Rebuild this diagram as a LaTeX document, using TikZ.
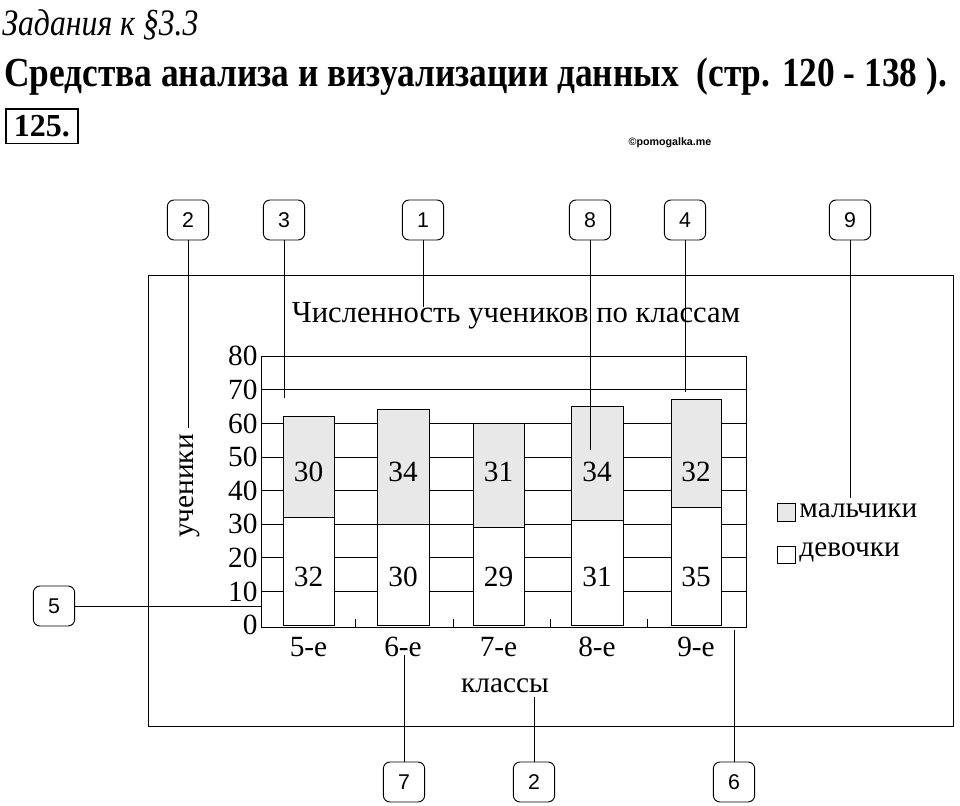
\documentclass[tikz,border=0pt]{standalone}
\usepackage{fontspec}
\setmainfont{Liberation Serif}
\setsansfont{Liberation Sans}
\usetikzlibrary{positioning}
\tikzset{
  callout/.style={draw, rounded corners=5pt, minimum width=31pt, minimum height=30pt, inner sep=0pt},
  lbl/.style={font=\fontsize{22}{22}\selectfont, inner sep=0pt},
  boys/.style={draw, fill=gray!18},
  girls/.style={draw, fill=white}
}
\begin{document}
\begin{tikzpicture}[x=0.75pt, y=-0.75pt, line width=0.7pt]
  \useasboundingbox (0,0) rectangle (960,806);
  % header
  \node[anchor=base west, inner sep=0pt, xscale=0.85, font=\itshape\fontsize{28}{28}\selectfont] (hdr) at (2,36) {Задания к §3.3};
  \node[anchor=base west, inner sep=0pt, xscale=0.855, font=\bfseries\fontsize{31}{31}\selectfont] (sub) at (4,87) {Средства анализа и визуализации данных\ \ (стр. 120 - 138 ).};
  \node[draw, line width=1.2pt, anchor=north west, minimum width=54pt, minimum height=26pt, inner sep=0pt, font=\bfseries\fontsize{24}{24}\selectfont] (num) at (5,108) {125.};
  \node[font=\sffamily\bfseries\fontsize{8}{8}\selectfont] (site) at (670,143) {©pomogalka.me};
  % frame
  \draw (148,275) rectangle (953,726);
  % grid
  \foreach \v [evaluate=\v as \yy using 625-3.36*\v] in {10,20,...,80}{
    \draw (261,\yy) -- (746,\yy);
  }
  \draw (261,356) -- (261,627) -- (746,627) -- (746,356);
  \foreach \xx in {355,453,550,647}{
    \draw (\xx,627) -- (\xx,619);
  }
  \foreach \v [evaluate=\v as \yy using 625-3.36*\v] in {0,10,...,80}{
    \node[lbl, anchor=east] (y\v) at (258,\yy) {\v};
  }
  % bars
  \foreach \xl/\xr/\g/\b/\cl [count=\i] in {283/334/32/30/5-е, 377/429/30/34/6-е, 473/524/29/31/7-е, 571/623/31/34/8-е, 671/721/35/32/9-е}{
    \draw[girls] (\xl,625) rectangle (\xr,{625-3.36*\g});
    \draw[boys] (\xl,{625-3.36*\g}) rectangle (\xr,{625-3.36*(\g+\b)});
    \node[lbl] (g\i) at ({(\xl+\xr)/2},577) {\g};
    \node[lbl] (b\i) at ({(\xl+\xr)/2},472) {\b};
    \node[lbl] (c\i) at ({(\xl+\xr)/2},647) {\cl};
  }
  \node[lbl, font=\fontsize{23}{23}\selectfont] (ttl) at (516,316) {Численность учеников по классам};
  \node[lbl, rotate=90] (ylab) at (190,486) {ученики};
  \node[lbl] (xlab) at (505,686) {классы};
  % legend
  \draw[boys] (777,503) rectangle (795,521);
  \draw[girls] (777,546) rectangle (795,563);
  \node[lbl, anchor=west] (lb) at (799,511) {мальчики};
  \node[lbl, anchor=west] (lg) at (799,552) {девочки};
  % callouts
  \foreach \n/\t/\xx/\yy in {t2/2/188/220, t3/3/284/220, t1/1/423/220, t8/8/590/220, t4/4/685/220, t9/9/850/220, b7/7/404/782, b2/2/534/782, b6/6/734/782, l5/5/54/606}{
    \node[callout] (\n) at (\xx,\yy) {};
    \node[inner sep=0pt, font=\sffamily\fontsize{16}{16}\selectfont] (\n t) at (\n) {\t};
  }
  \coordinate (e2) at (188,428);
  \coordinate (e3) at (284,398);
  \coordinate (e1) at (423,307);
  \coordinate (e8) at (590,450);
  \coordinate (e4) at (685,392);
  \coordinate (e9) at (850,498);
  \coordinate (e7) at (404,655);
  \coordinate (ex) at (534,697);
  \coordinate (e6) at (734,630);
  \coordinate (e5) at (261,606);
  \draw (t2) -- (e2);
  \draw (t3) -- (e3);
  \draw (t1) -- (e1);
  \draw (t8) -- (e8);
  \draw (t4) -- (e4);
  \draw (t9) -- (e9);
  \draw (b7) -- (e7);
  \draw (b2) -- (ex);
  \draw (b6) -- (e6);
  \draw (l5) -- (e5);
\end{tikzpicture}
\end{document}
